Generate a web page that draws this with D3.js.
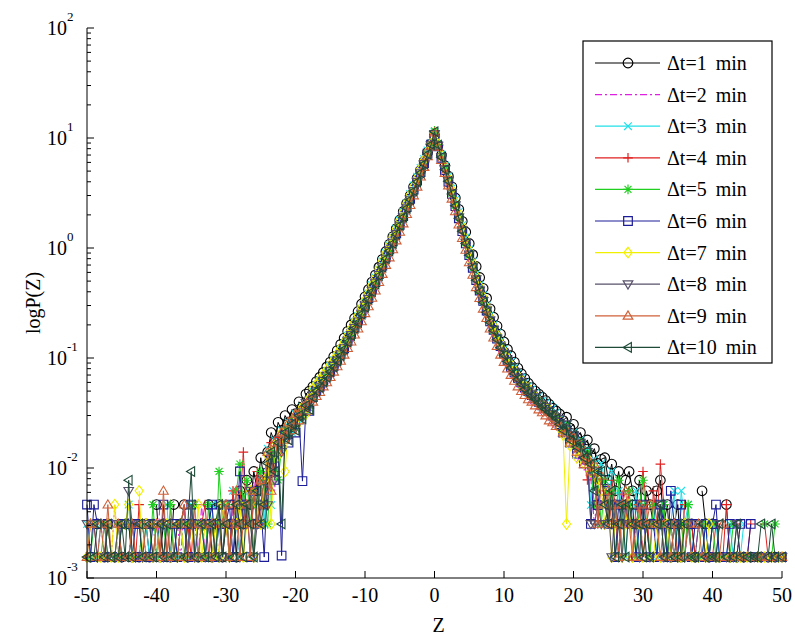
<!DOCTYPE html>
<html><head><meta charset="utf-8">
<script src="https://cdn.jsdelivr.net/npm/d3@7"></script>
<style>
html,body{margin:0;padding:0;background:#fff;}
svg{display:block;}
text{font-family:"Liberation Serif","Times New Roman",serif;fill:#000;}
</style></head>
<body><svg id="c" width="795" height="637"></svg>
<script>
// ---------------- data ----------------
const seriesNames = ["Δt=1 min","Δt=2 min","Δt=3 min","Δt=4 min","Δt=5 min","Δt=6 min","Δt=7 min","Δt=8 min","Δt=9 min","Δt=10 min"];
const xTicks = [-50,-40,-30,-20,-10,0,10,20,30,40,50];
const yDecades = [-3,-2,-1,0,1,2];
const countUnit = 0.00155;                       // probability of a single count in the tails
const leftTailZ  = d3.range(0,52).map(k=>-50+0.5*k);   // -50 .. -24.5
const coreLeftZ  = d3.range(0,48).map(k=>-24+0.5*k);   // -24 .. -0.5
const coreRightZ = d3.range(0,48).map(k=>0.5+0.5*k);   // 0.5 .. 24
const rightTailZ = d3.range(0,52).map(k=>24.5+0.5*k);  // 24.5 .. 50

// values at Z = 0
const peaks = [10.5,11.0,11.3,10.8,11.6,10.7,11.0,10.9,11.2,11.4];

// left flank, Z = -24 .. -0.5
const s1Left  = [0.014,0.021,0.017,0.026,0.022,0.03,0.026,0.034,0.031,0.04,0.036,0.047,0.05,0.055,0.061,0.067,0.074,0.083,0.092,0.103,0.117,0.133,0.152,0.175,0.2,0.23,0.265,0.31,0.36,0.42,0.49,0.57,0.67,0.79,0.93,1.08,1.27,1.5,1.8,2.15,2.55,3.0,3.6,4.3,5.1,6.1,7.4,8.8];
const s2Left  = [0.0046,0.014,0.0062,0.017,0.014,0.021,0.017,0.025,0.022,0.03,0.028,0.036,0.037,0.038,0.042,0.047,0.051,0.057,0.063,0.071,0.079,0.09,0.1,0.118,0.135,0.157,0.175,0.21,0.245,0.29,0.34,0.4,0.48,0.57,0.69,0.82,0.98,1.17,1.4,1.68,2.05,2.48,3.05,3.7,4.5,5.5,6.8,8.4];
const s3Left  = [0.015,0.0046,0.018,0.014,0.022,0.018,0.026,0.021,0.031,0.027,0.036,0.033,0.042,0.05,0.056,0.062,0.068,0.076,0.084,0.095,0.105,0.12,0.135,0.159,0.18,0.213,0.24,0.28,0.325,0.385,0.46,0.54,0.64,0.76,0.9,1.06,1.25,1.5,1.78,2.13,2.55,3.1,3.7,4.45,5.35,6.4,7.7,9.0];
const s4Left  = [0.0062,0.017,0.0093,0.019,0.016,0.023,0.019,0.028,0.024,0.033,0.03,0.04,0.036,0.045,0.05,0.056,0.062,0.068,0.076,0.085,0.095,0.107,0.122,0.14,0.16,0.19,0.215,0.25,0.3,0.345,0.41,0.48,0.57,0.68,0.8,0.95,1.12,1.34,1.6,1.9,2.3,2.75,3.3,4.0,4.8,5.8,7.1,8.6];
const s5Left  = [0.0031,0.014,0.012,0.0078,0.015,0.022,0.02,0.027,0.023,0.032,0.029,0.038,0.035,0.044,0.05,0.054,0.061,0.067,0.075,0.083,0.094,0.105,0.12,0.14,0.16,0.185,0.21,0.25,0.29,0.34,0.4,0.47,0.56,0.67,0.8,0.94,1.1,1.33,1.6,1.9,2.3,2.75,3.3,4.0,4.8,5.9,7.1,8.8];
const s6Left  = [0.009,0.012,0.0078,0.015,0.0016,0.02,0.017,0.025,0.021,0.03,0.0076,0.036,0.033,0.044,0.05,0.055,0.061,0.068,0.075,0.085,0.095,0.108,0.122,0.143,0.165,0.19,0.22,0.255,0.3,0.35,0.42,0.49,0.58,0.69,0.82,0.97,1.15,1.36,1.62,1.95,2.35,2.8,3.4,4.1,4.9,5.9,7.2,8.7];
const s7Left  = [0.013,0.0031,0.016,0.013,0.021,0.0093,0.025,0.022,0.03,0.026,0.036,0.031,0.043,0.053,0.058,0.064,0.071,0.078,0.087,0.097,0.109,0.123,0.14,0.162,0.185,0.213,0.246,0.29,0.336,0.39,0.46,0.54,0.64,0.76,0.9,1.06,1.25,1.5,1.78,2.12,2.55,3.05,3.65,4.35,5.25,6.3,7.5,8.9];
const s8Left  = [0.0046,0.013,0.0078,0.018,0.014,0.022,0.019,0.027,0.023,0.032,0.029,0.039,0.037,0.046,0.05,0.055,0.062,0.068,0.076,0.085,0.095,0.108,0.123,0.142,0.162,0.188,0.215,0.25,0.3,0.345,0.41,0.48,0.57,0.67,0.8,0.94,1.12,1.34,1.6,1.9,2.3,2.75,3.3,4.0,4.8,5.8,7.1,8.6];
const s9Left  = [0.014,0.0062,0.017,0.014,0.021,0.018,0.026,0.022,0.031,0.027,0.035,0.033,0.042,0.04,0.045,0.049,0.055,0.06,0.067,0.075,0.084,0.094,0.107,0.123,0.141,0.163,0.185,0.215,0.255,0.295,0.352,0.41,0.49,0.58,0.7,0.82,0.97,1.17,1.4,1.67,2.03,2.45,3.0,3.6,4.45,5.45,6.8,8.5];
const s10Left = [0.011,0.014,0.0093,0.017,0.0031,0.021,0.018,0.025,0.022,0.03,0.028,0.037,0.034,0.044,0.05,0.054,0.061,0.067,0.075,0.083,0.094,0.105,0.12,0.14,0.16,0.185,0.21,0.25,0.29,0.34,0.4,0.47,0.56,0.67,0.8,0.94,1.1,1.33,1.6,1.9,2.3,2.75,3.3,4.0,4.8,5.8,7.1,8.7];

// right flank, Z = 0.5 .. 24
const s1Right  = [8.6,7.0,5.6,4.5,3.6,2.85,2.25,1.75,1.4,1.1,0.87,0.68,0.54,0.43,0.35,0.28,0.235,0.195,0.165,0.14,0.12,0.105,0.092,0.081,0.072,0.065,0.059,0.054,0.05,0.047,0.044,0.041,0.038,0.035,0.033,0.031,0.027,0.029,0.023,0.025,0.019,0.021,0.016,0.018,0.013,0.015,0.011,0.012];
const s2Right  = [8.3,6.2,4.7,3.6,2.7,2.05,1.58,1.18,0.92,0.72,0.55,0.43,0.34,0.27,0.22,0.175,0.15,0.123,0.105,0.088,0.077,0.067,0.06,0.053,0.048,0.044,0.04,0.038,0.035,0.033,0.03,0.028,0.026,0.024,0.022,0.022,0.018,0.02,0.015,0.017,0.011,0.014,0.0093,0.012,0.0078,0.0031,0.0062,0.0046];
const s3Right  = [8.9,7.1,5.6,4.5,3.5,2.75,2.13,1.62,1.25,0.97,0.75,0.58,0.46,0.37,0.3,0.245,0.2,0.168,0.142,0.121,0.105,0.092,0.082,0.073,0.066,0.06,0.056,0.052,0.048,0.045,0.041,0.039,0.037,0.035,0.032,0.028,0.023,0.025,0.019,0.021,0.016,0.018,0.013,0.015,0.0046,0.012,0.0093,0.011];
const s4Right  = [8.4,6.6,5.1,4.0,3.1,2.4,1.85,1.4,1.1,0.86,0.66,0.51,0.4,0.32,0.26,0.21,0.176,0.146,0.124,0.106,0.093,0.081,0.072,0.064,0.058,0.053,0.049,0.045,0.042,0.039,0.036,0.034,0.032,0.03,0.028,0.025,0.021,0.023,0.017,0.02,0.014,0.017,0.012,0.0078,0.011,0.0093,0.0031,0.0078];
const s5Right  = [8.7,6.8,5.2,4.1,3.15,2.45,1.88,1.45,1.12,0.86,0.66,0.51,0.41,0.32,0.26,0.21,0.178,0.148,0.125,0.106,0.093,0.08,0.072,0.064,0.057,0.052,0.048,0.045,0.042,0.039,0.036,0.034,0.032,0.03,0.028,0.026,0.022,0.024,0.018,0.019,0.015,0.017,0.0124,0.014,0.0093,0.0046,0.0078,0.0031];
const s6Right  = [8.4,6.6,5.1,4.0,3.1,2.4,1.86,1.42,1.1,0.86,0.66,0.51,0.41,0.33,0.27,0.215,0.18,0.15,0.128,0.11,0.096,0.083,0.074,0.066,0.06,0.054,0.05,0.046,0.043,0.04,0.037,0.035,0.033,0.03,0.028,0.025,0.021,0.022,0.017,0.019,0.0135,0.016,0.011,0.012,0.0031,0.0093,0.0046,0.0078];
const s7Right  = [8.8,7.0,5.5,4.3,3.4,2.63,2.04,1.57,1.21,0.94,0.73,0.56,0.45,0.36,0.29,0.235,0.195,0.162,0.137,0.116,0.1,0.087,0.078,0.069,0.063,0.056,0.053,0.048,0.045,0.041,0.038,0.036,0.034,0.031,0.029,0.023,0.02,0.0031,0.016,0.018,0.0124,0.0155,0.011,0.0124,0.0093,0.01,0.0078,0.0062];
const s8Right  = [8.5,6.7,5.2,4.05,3.15,2.45,1.9,1.45,1.12,0.87,0.67,0.52,0.41,0.33,0.27,0.22,0.18,0.15,0.127,0.108,0.094,0.082,0.074,0.066,0.06,0.054,0.05,0.047,0.044,0.041,0.038,0.036,0.033,0.031,0.029,0.028,0.023,0.025,0.019,0.02,0.015,0.017,0.012,0.014,0.0031,0.0031,0.0046,0.0031];
const s9Right  = [8.3,6.3,4.8,3.7,2.8,2.15,1.63,1.23,0.96,0.74,0.57,0.44,0.35,0.28,0.23,0.185,0.153,0.128,0.107,0.092,0.08,0.07,0.062,0.055,0.05,0.046,0.042,0.04,0.037,0.034,0.032,0.03,0.027,0.026,0.024,0.024,0.021,0.022,0.017,0.019,0.014,0.016,0.0108,0.0124,0.0093,0.0108,0.0031,0.0085];
const s10Right = [8.6,6.7,5.15,4.05,3.1,2.42,1.86,1.42,1.1,0.86,0.66,0.51,0.4,0.32,0.26,0.21,0.177,0.147,0.124,0.106,0.093,0.081,0.072,0.064,0.058,0.052,0.048,0.045,0.042,0.039,0.036,0.034,0.032,0.03,0.028,0.025,0.022,0.024,0.018,0.02,0.0155,0.017,0.0124,0.0145,0.0108,0.0062,0.0093,0.0093];

// tail counts (0 = empty bin), Z = -50 .. -24.5
const s1LeftTail  = [0,1,0,2,0,1,2,0,1,0,1,0,2,1,0,1,0,2,1,0,3,1,2,0,1,3,0,2,3,1,2,0,1,2,0,3,1,2,3,1,2,0,3,1,4,2,5,3,6,4,8,5];
const s2LeftTail  = [1,2,0,1,2,1,0,1,3,1,2,0,1,2,0,1,2,1,0,2,1,3,0,2,1,0,2,1,3,1,0,2,1,3,1,2,0,2,1,3,2,1,3,2,1,4,2,3,5,2,4,6];
const s3LeftTail  = [2,1,0,1,2,0,1,1,0,2,1,0,3,1,2,0,1,2,1,0,1,2,0,3,1,2,1,0,2,1,3,1,0,2,1,2,3,1,2,0,3,1,4,2,1,3,2,4,1,3,5,2];
const s4LeftTail  = [1,0,2,1,0,1,2,0,1,2,0,1,0,2,1,3,1,0,2,1,0,2,1,0,3,1,2,0,1,2,1,3,0,2,3,1,2,0,1,3,2,1,4,2,3,9,2,4,3,6,2,5];
const s5LeftTail  = [0,1,2,0,1,2,1,0,1,2,1,0,2,1,0,1,2,0,1,3,1,0,2,1,3,1,0,2,1,2,0,3,1,2,1,3,2,1,6,2,3,1,2,4,7,3,5,2,4,3,6,4];
const s6LeftTail  = [3,1,3,2,0,1,2,1,0,1,2,0,2,1,2,2,1,0,1,2,0,1,3,1,0,2,1,0,2,1,3,1,2,0,1,2,3,1,2,0,2,3,1,2,6,2,3,1,4,2,3,1];
const s7LeftTail  = [1,2,0,1,1,0,2,1,3,1,0,2,3,1,0,4,1,2,0,1,2,1,0,2,1,0,1,2,1,0,2,1,3,1,2,0,1,2,1,3,2,1,0,2,3,1,2,4,1,3,2,5];
const s8LeftTail  = [2,0,2,1,0,2,1,0,1,2,1,0,4,2,1,0,1,2,0,1,2,0,1,2,1,0,1,2,0,1,3,1,2,0,1,2,1,0,2,1,3,1,2,0,1,3,2,4,1,2,3,5];
const s9LeftTail  = [1,2,0,1,2,1,3,1,0,2,1,0,1,2,1,0,2,1,0,1,2,1,4,1,2,0,1,2,3,1,2,0,1,2,0,1,2,1,0,2,3,1,2,4,1,2,3,1,4,2,5,3];
const s10LeftTail = [1,0,1,2,0,1,2,1,0,1,2,1,5,1,0,2,1,0,2,1,0,2,1,2,0,1,2,0,1,2,6,1,0,2,1,0,2,1,3,1,2,0,1,3,2,1,3,2,1,4,2,3];

// tail counts, Z = 24.5 .. 50
const s1RightTail  = [8,5,7,4,6,3,5,6,4,3,5,2,4,3,2,4,5,2,3,1,2,3,1,2,0,2,1,0,4,2,1,2,0,1,0,3,1,0,1,0,1,0,1,0,0,1,0,1,0,1,0,0];
const s2RightTail  = [4,2,5,3,1,4,2,3,1,2,3,1,2,0,2,1,3,1,0,2,1,2,0,1,2,0,1,2,0,1,0,1,1,0,2,0,1,0,1,2,0,1,0,0,1,0,1,0,1,0,0,1];
const s3RightTail  = [5,3,6,2,4,3,1,3,2,4,1,3,2,0,3,1,2,3,1,2,4,1,4,2,3,1,2,0,1,2,1,0,2,1,0,1,2,1,0,1,2,0,1,0,0,1,0,1,0,1,1,0];
const s4RightTail  = [4,2,5,3,1,3,2,4,1,3,2,6,3,1,4,2,7,3,1,2,0,2,1,3,0,2,1,0,2,1,0,1,2,0,1,3,1,0,2,1,0,1,2,0,1,0,2,1,0,1,0,1];
const s5RightTail  = [5,3,4,2,5,1,3,4,2,1,3,5,2,1,3,0,2,3,1,2,1,0,2,1,3,1,0,1,2,0,1,2,1,0,1,0,1,2,0,1,0,1,0,1,1,0,2,0,1,2,0,1];
const s6RightTail  = [4,2,3,1,3,2,0,2,3,1,2,3,1,0,2,1,3,2,1,4,2,1,3,0,2,1,2,0,1,2,1,2,3,1,0,1,2,0,1,2,0,1,2,0,1,1,0,1,1,0,1,1];
const s7RightTail  = [2,3,1,2,0,1,2,3,1,0,2,1,2,0,1,2,1,0,2,1,0,1,1,2,0,1,0,1,0,1,2,0,1,1,0,0,1,0,1,1,0,1,0,0,1,0,1,0,1,0,1,1];
const s8RightTail  = [2,3,1,3,2,1,3,2,0,2,1,3,2,1,0,2,3,1,0,1,2,1,0,1,2,0,1,2,0,1,1,0,1,2,0,1,0,1,2,0,1,0,1,1,0,1,0,1,0,1,0,1];
const s9RightTail  = [3,4,2,3,1,3,4,2,1,2,3,1,2,3,0,2,1,2,0,1,2,1,0,1,2,1,0,2,1,0,1,0,1,1,2,0,1,0,1,1,0,1,0,0,1,1,0,1,0,0,1,1];
const s10RightTail = [3,2,4,1,2,3,1,3,2,0,2,1,2,1,0,2,3,1,2,0,1,2,1,2,0,1,1,0,2,1,0,1,1,2,0,1,0,1,2,1,0,1,0,1,1,2,0,1,2,1,0,1];

// ---------------- styles ----------------
const colors  = ["#000000","#e020e0","#20e0e8","#e02020","#20d020","#1c1c98","#f0f000","#58506a","#d06038","#1e4a38"];
const markers = ["circle","none","x","plus","star","square","diamond","tridown","triup","trileft"];
const dashes  = [null,"7,3,2,3",null,null,null,null,null,null,null,null];

const leftCores  = [s1Left,s2Left,s3Left,s4Left,s5Left,s6Left,s7Left,s8Left,s9Left,s10Left];
const rightCores = [s1Right,s2Right,s3Right,s4Right,s5Right,s6Right,s7Right,s8Right,s9Right,s10Right];
const leftTails  = [s1LeftTail,s2LeftTail,s3LeftTail,s4LeftTail,s5LeftTail,s6LeftTail,s7LeftTail,s8LeftTail,s9LeftTail,s10LeftTail];
const rightTails = [s1RightTail,s2RightTail,s3RightTail,s4RightTail,s5RightTail,s6RightTail,s7RightTail,s8RightTail,s9RightTail,s10RightTail];

const series = seriesNames.map((name,i)=>{
  const pts = [];
  leftTailZ.forEach((z,k)=>pts.push({z, p: leftTails[i][k]*countUnit}));
  coreLeftZ.forEach((z,k)=>pts.push({z, p: leftCores[i][k]}));
  pts.push({z:0, p: peaks[i]});
  coreRightZ.forEach((z,k)=>pts.push({z, p: rightCores[i][k]}));
  rightTailZ.forEach((z,k)=>pts.push({z, p: rightTails[i][k]*countUnit}));
  return {name, color: colors[i], marker: markers[i], dash: dashes[i], pts};
});

// ---------------- drawing ----------------
const svg = d3.select("#c");
const X0 = 87, X1 = 782, Y0 = 578, Y1 = 28;
const x = d3.scaleLinear().domain([-50,50]).range([X0,X1]);
const y = d3.scaleLog().domain([1e-3,1e2]).range([Y0,Y1]);

function markerPath(type, r){
  switch(type){
    case "circle": return `M${r},0A${r},${r} 0 1,1 ${-r},0A${r},${r} 0 1,1 ${r},0Z`;
    case "x": { const a=r*0.8; return `M${-a},${-a}L${a},${a}M${-a},${a}L${a},${-a}`; }
    case "plus": return `M${-r},0L${r},0M0,${-r}L0,${r}`;
    case "star": { const a=r*0.72; return `M${-r},0L${r},0M0,${-r}L0,${r}M${-a},${-a}L${a},${a}M${-a},${a}L${a},${-a}`; }
    case "square": { const a=r*0.9; return `M${-a},${-a}H${a}V${a}H${-a}Z`; }
    case "diamond": return `M0,${-r*1.1}L${r*0.85},0L0,${r*1.1}L${-r*0.85},0Z`;
    case "tridown": return `M${-r},${-r*0.7}L${r},${-r*0.7}L0,${r}Z`;
    case "triup": return `M${-r},${r*0.7}L${r},${r*0.7}L0,${-r}Z`;
    case "trileft": return `M${r*0.7},${-r}L${r*0.7},${r}L${-r},0Z`;
    default: return "";
  }
}

const plot = svg.append("g");
const line = d3.line().defined(d=>d.p>0).x(d=>x(d.z)).y(d=>y(d.p));
series.forEach(s=>{
  const g = plot.append("g");
  g.append("path").datum(s.pts).attr("d",line)
    .attr("fill","none").attr("stroke",s.color).attr("stroke-width",1)
    .attr("stroke-dasharray",s.dash);
  if(s.marker!=="none"){
    g.selectAll("path.m").data(s.pts.filter(d=>d.p>0)).join("path").attr("class","m")
      .attr("transform",d=>`translate(${x(d.z)},${y(d.p)})`)
      .attr("d",markerPath(s.marker,4.8))
      .attr("fill","none").attr("stroke",s.color).attr("stroke-width",1.1);
  }
});

// axes
const ax = svg.append("g").attr("stroke","#000").attr("stroke-width",1).attr("fill","none");
ax.append("line").attr("x1",X0).attr("x2",X0).attr("y1",Y1).attr("y2",Y0+0.5);
ax.append("line").attr("x1",X0).attr("x2",X1).attr("y1",Y0).attr("y2",Y0);
xTicks.forEach(t=>{
  ax.append("line").attr("x1",x(t)).attr("x2",x(t)).attr("y1",Y0).attr("y2",Y0-7);
});
yDecades.forEach(e=>{
  const v = Math.pow(10,e);
  ax.append("line").attr("x1",X0).attr("x2",X0+7).attr("y1",y(v)).attr("y2",y(v));
  if(e<2){
    for(let m=2;m<=9;m++){
      const yy=y(m*v);
      ax.append("line").attr("x1",X0).attr("x2",X0+4).attr("y1",yy).attr("y2",yy);
    }
  }
});

// tick labels
svg.append("g").selectAll("text").data(xTicks).join("text")
  .attr("x",d=>x(d)).attr("y",Y0+24).attr("text-anchor","middle")
  .attr("font-size",20).text(d=>d);
const yl = svg.append("g").selectAll("text").data(yDecades).join("text")
  .attr("x",47).attr("y",d=>y(Math.pow(10,d))+7).attr("font-size",20);
yl.append("tspan").text("10");
yl.append("tspan").attr("font-size",13).attr("dy",-14).text(d=>d);

// axis titles
svg.append("text").attr("x",x(0)+4).attr("y",632).attr("text-anchor","middle").attr("font-size",20).text("Z");
svg.append("text").attr("transform",`translate(40,${(Y0+Y1)/2}) rotate(-90)`)
  .attr("text-anchor","middle").attr("font-size",20).text("logP(Z)");

// legend
const LX=583, LY=41, LW=189, LH=322, rowH=31.6;
const lg = svg.append("g");
lg.append("rect").attr("x",LX).attr("y",LY).attr("width",LW).attr("height",LH)
  .attr("fill","#fff").attr("stroke","#000").attr("stroke-width",1.2);
series.forEach((s,i)=>{
  const cy = LY+22+i*rowH;
  lg.append("line").attr("x1",595).attr("x2",660).attr("y1",cy).attr("y2",cy)
    .attr("stroke",s.color).attr("stroke-width",1.2).attr("stroke-dasharray",s.dash);
  if(s.marker!=="none"){
    lg.append("path").attr("transform",`translate(628,${cy})`).attr("d",markerPath(s.marker,4.8))
      .attr("fill","none").attr("stroke",s.color).attr("stroke-width",1.2);
  }
  lg.append("text").attr("x",667).attr("y",cy+7).attr("font-size",20)
    .attr("word-spacing",4).text(s.name);
});
</script></body></html>
